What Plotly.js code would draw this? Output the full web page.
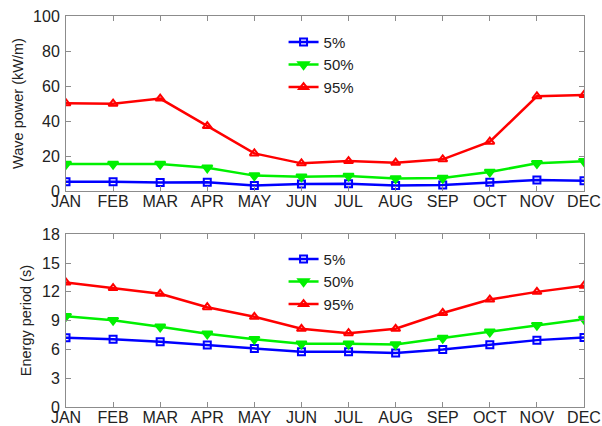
<!DOCTYPE html>
<html>
<head>
<meta charset="utf-8">
<script src="https://cdn.plot.ly/plotly-3.0.1.min.js"></script>
<style>
  html, body { margin: 0; padding: 0; background: #fff; }
  #chart { width: 602px; height: 426px; }
</style>
</head>
<body>
<div id="chart"></div>
<script>
// Monthly wave statistics: percentiles of wave power and energy period
const months = ["JAN", "FEB", "MAR", "APR", "MAY", "JUN", "JUL", "AUG", "SEP", "OCT", "NOV", "DEC"];
const seriesNames = ["5%", "50%", "95%"];

const power5  = [5.3, 5.3, 4.8, 5.0, 3.2, 4.0, 4.2, 3.2, 3.4, 5.0, 6.3, 5.9];
const power50 = [15.4, 15.4, 15.4, 13.3, 8.8, 8.2, 8.6, 7.2, 7.4, 10.9, 15.8, 17.0];
const power95 = [50.1, 49.9, 52.8, 37.1, 21.5, 15.8, 17.1, 16.2, 18.1, 28.2, 54.1, 54.9];

const period5  = [7.21, 7.07, 6.80, 6.45, 6.10, 5.75, 5.75, 5.62, 5.99, 6.48, 6.97, 7.24];
const period50 = [9.47, 9.05, 8.36, 7.63, 7.07, 6.59, 6.59, 6.52, 7.18, 7.84, 8.53, 9.16];
const period95 = [12.97, 12.4, 11.8, 10.4, 9.4, 8.15, 7.7, 8.15, 9.8, 11.2, 12.0, 12.65];

const powerTicks = [0, 20, 40, 60, 80, 100];
const periodTicks = [0, 3, 6, 9, 12, 15, 18];

const idx = months.map((_, i) => i);
const styles = [
  { color: "#0000ff", symbol: "square-open", size: 7 },
  { color: "#00f000", symbol: "triangle-down", size: 9 },
  { color: "#ff0000", symbol: "triangle-up-open", size: 8 }
];

function trace(y, k, xa, ya, leg) {
  return {
    x: idx, y: y, xaxis: xa, yaxis: ya, legend: leg,
    type: "scatter", mode: "lines+markers", name: seriesNames[k],
    line: { color: styles[k].color, width: 2.5 },
    marker: { symbol: styles[k].symbol, size: styles[k].size, color: styles[k].color,
              line: { color: styles[k].color, width: 2 } }
  };
}

const data = [
  trace(power5, 0, "x", "y", "legend"),
  trace(power50, 1, "x", "y", "legend"),
  trace(power95, 2, "x", "y", "legend"),
  trace(period5, 0, "x2", "y2", "legend2"),
  trace(period50, 1, "x2", "y2", "legend2"),
  trace(period95, 2, "x2", "y2", "legend2")
];

const tickFont = { family: "Liberation Sans, Arial, sans-serif", size: 16, color: "#222" };

function xAxis(anchor) {
  return {
    anchor: anchor, range: [0, 11], tickmode: "array", tickvals: idx, ticktext: months,
    showgrid: false, zeroline: false, showline: true, mirror: "ticks",
    linecolor: "#8c8c8c", linewidth: 1, ticks: "inside", ticklen: 5, tickcolor: "#8c8c8c",
    tickfont: tickFont, ticklabelstandoff: -4, fixedrange: true
  };
}
function yAxis(anchor, domain, range, vals, title) {
  return {
    anchor: anchor, domain: domain, range: range, tickmode: "array", tickvals: vals,
    showgrid: false, zeroline: false, showline: true, mirror: "ticks",
    linecolor: "#8c8c8c", linewidth: 1, ticks: "inside", ticklen: 5, tickcolor: "#8c8c8c",
    tickfont: tickFont, ticklabelstandoff: 2,
    title: { text: title, font: { family: "Liberation Sans, Arial, sans-serif", size: 14.5, color: "#222" }, standoff: 6 }
  };
}

const legendStyle = {
  bgcolor: "rgba(255,255,255,0)", borderwidth: 0,
  font: { family: "Liberation Sans, Arial, sans-serif", size: 15, color: "#222" },
  xanchor: "left", yanchor: "top", tracegroupgap: 0, itemwidth: 30
};

const layout = {
  width: 602, height: 426,
  margin: { l: 66, r: 18, t: 16, b: 19 },
  paper_bgcolor: "#fff", plot_bgcolor: "#fff",
  showlegend: true,
  xaxis: xAxis("y"),
  yaxis: yAxis("x", [0.5524, 1], [0, 100], powerTicks, "Wave power (kW/m)"),
  xaxis2: xAxis("y2"),
  yaxis2: yAxis("x2", [0, 0.4417], [0, 18], periodTicks, "Energy period (s)"),
  legend: Object.assign({ x: 0.42, y: 0.975 }, legendStyle),
  legend2: Object.assign({ x: 0.42, y: 0.42 }, legendStyle)
};

Plotly.newPlot("chart", data, layout, { displayModeBar: false, staticPlot: true });
</script>
</body>
</html>
